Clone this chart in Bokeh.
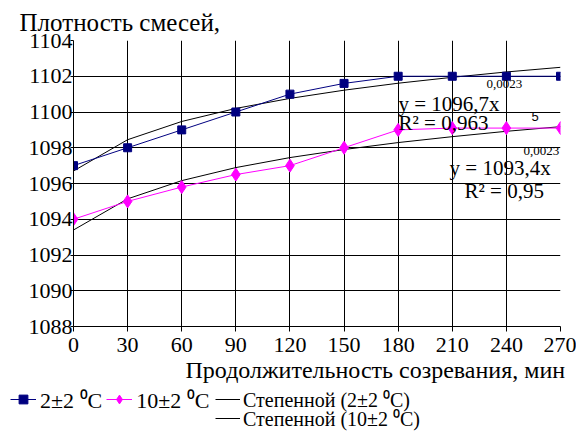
from bokeh.plotting import figure
from bokeh.models import Range1d, Label, Legend, LegendItem, FixedTicker, Title
from bokeh.layouts import column
from bokeh.embed import file_html
from bokeh.resources import INLINE

# ---- data ----
minutes = [0, 30, 60, 90, 120, 150, 180, 210, 240, 270]
dens_2 = [1097.0, 1098.0, 1099.0, 1100.0, 1101.0, 1101.6, 1102.0, 1102.0, 1102.0, 1102.0]
dens_10 = [1094.0, 1095.0, 1095.8, 1096.5, 1097.0, 1098.0, 1099.0, 1099.1, 1099.1, 1099.1]
trend_2 = [1096.7, 1098.45, 1099.47, 1100.2, 1100.76, 1101.22, 1101.61, 1101.94, 1102.24, 1102.5]
trend_10 = [1093.4, 1095.14, 1096.16, 1096.89, 1097.45, 1097.9, 1098.29, 1098.62, 1098.92, 1099.18]
y_ticks = [1088, 1090, 1092, 1094, 1096, 1098, 1100, 1102, 1104]
x_ticks = [0, 30, 60, 90, 120, 150, 180, 210, 240, 270]
series_names = ["2±2 \u2070C", "10±2 \u2070C", "Степенной (2±2 \u2070C)", "Степенной (10±2 \u2070C)"]
y_title = "Плотность смесей,"
x_title = "Продолжительность созревания, мин"

SERIF = "Liberation Serif"
NAVY = "#000080"
MAGENTA = "#FF00FF"

p = figure(width=576, height=388, output_backend="svg", toolbar_location=None,
           x_range=Range1d(0, 270), y_range=Range1d(1088, 1104),
           min_border_left=73, min_border_right=16, min_border_top=40, min_border_bottom=62)
p.outline_line_color = None
p.background_fill_color = "white"
p.border_fill_color = "white"

# y caption at top-left
p.add_layout(Title(text=y_title, align="left", offset=-54, standoff=9,
                   text_font=SERIF, text_font_size="25px", text_font_style="normal",
                   text_color="black"), "above")

for ax in (p.xaxis[0], p.yaxis[0]):
    ax.axis_line_color = "black"
    ax.major_tick_line_color = "black"
    ax.minor_tick_line_color = None
    ax.major_tick_in = 0
    ax.major_label_text_font = SERIF
    ax.major_label_text_font_size = "22px"
    ax.major_label_text_color = "black"

p.xaxis[0].ticker = FixedTicker(ticks=x_ticks)
p.yaxis[0].ticker = FixedTicker(ticks=y_ticks)
p.xaxis[0].major_tick_out = 5
p.xaxis[0].major_label_standoff = 6
p.yaxis[0].major_tick_out = 3
p.yaxis[0].major_label_standoff = -2

# x caption below the axis
p.add_layout(Title(text=x_title, align="left", offset=112, standoff=0,
                   text_font=SERIF, text_font_size="24px", text_font_style="normal",
                   text_color="black"), "below")

p.xgrid.ticker = FixedTicker(ticks=x_ticks)
p.ygrid.ticker = FixedTicker(ticks=y_ticks)
p.grid.grid_line_color = "black"
p.grid.grid_line_width = 1
p.grid.grid_line_alpha = 1.0

# trend lines
p.line(minutes, trend_2, line_color="black", line_width=1)
p.line(minutes, trend_10, line_color="black", line_width=1)

# data series
p.line(minutes, dens_2, line_color=NAVY, line_width=1)
p.scatter(minutes, dens_2, marker="square", size=8, fill_color=NAVY, line_color=NAVY)
p.line(minutes, dens_10, line_color=MAGENTA, line_width=1)
p.scatter(minutes, dens_10, marker="diamond", size=13, fill_color=MAGENTA, line_color=MAGENTA)

# equation annotations
def lab(x, y, text, size, font=SERIF):
    p.add_layout(Label(x=x, y=y, text=text, text_font=font, text_font_size=size,
                       text_color="black", text_align="left", text_baseline="alphabetic"))

lab(180.2, 1100.45, "y = 1096,7x", "21px")
lab(229.0, 1101.57, "0,0023", "13px")
lab(180.2, 1099.39, "R\u00b2 = 0,963", "21px")
lab(253.9, 1099.73, "5", "13px", font="Liberation Sans")
lab(249.5, 1097.83, "0,0023", "13px")
lab(208.5, 1096.84, "y = 1093,4x", "21px")
lab(216.8, 1095.59, "R\u00b2 = 0,95", "21px")

# ---- legend strip below the chart (same data, ranges keep the marks out of view) ----
lf = figure(width=576, height=44, output_backend="svg", toolbar_location=None,
            x_axis_type=None, y_axis_type=None, x_range=Range1d(0, 1), y_range=Range1d(0, 1),
            min_border=0)
lf.frame_align = False
lf.outline_line_color = None
lf.grid.visible = False
lf.border_fill_color = "white"
lf.background_fill_color = "white"

g_l2 = lf.line(minutes, dens_2, line_color=NAVY, line_width=1)
g_s2 = lf.scatter(minutes, dens_2, marker="square", size=8, fill_color=NAVY, line_color=NAVY)
g_l10 = lf.line(minutes, dens_10, line_color=MAGENTA, line_width=1)
g_s10 = lf.scatter(minutes, dens_10, marker="diamond", size=13, fill_color=MAGENTA, line_color=MAGENTA)
g_t2 = lf.line(minutes, trend_2, line_color="black", line_width=1)
g_t10 = lf.line(minutes, trend_10, line_color="black", line_width=1)

common = dict(label_text_font=SERIF, label_text_color="black", padding=0, margin=0,
              border_line_color=None, background_fill_alpha=0, label_height=30,
              glyph_height=22)

leg_a = Legend(items=[LegendItem(label=series_names[0], renderers=[g_l2, g_s2]),
                      LegendItem(label=series_names[1], renderers=[g_l10, g_s10])],
               orientation="horizontal", location=(10, 18),
               label_text_font_size="22px", glyph_width=26,
               label_standoff=4, spacing=4, **common)
leg_b1 = Legend(items=[LegendItem(label=series_names[2], renderers=[g_t2])],
                location=(215, 18), label_text_font_size="20px", glyph_width=25,
                label_standoff=3, **common)
leg_b2 = Legend(items=[LegendItem(label=series_names[3], renderers=[g_t10])],
                location=(215, -1), label_text_font_size="20px", glyph_width=25,
                label_standoff=3, **common)
lf.add_layout(leg_a)
lf.add_layout(leg_b1)
lf.add_layout(leg_b2)

layout = column(p, lf, spacing=0)
open("out.html", "w").write(file_html(layout, INLINE))
